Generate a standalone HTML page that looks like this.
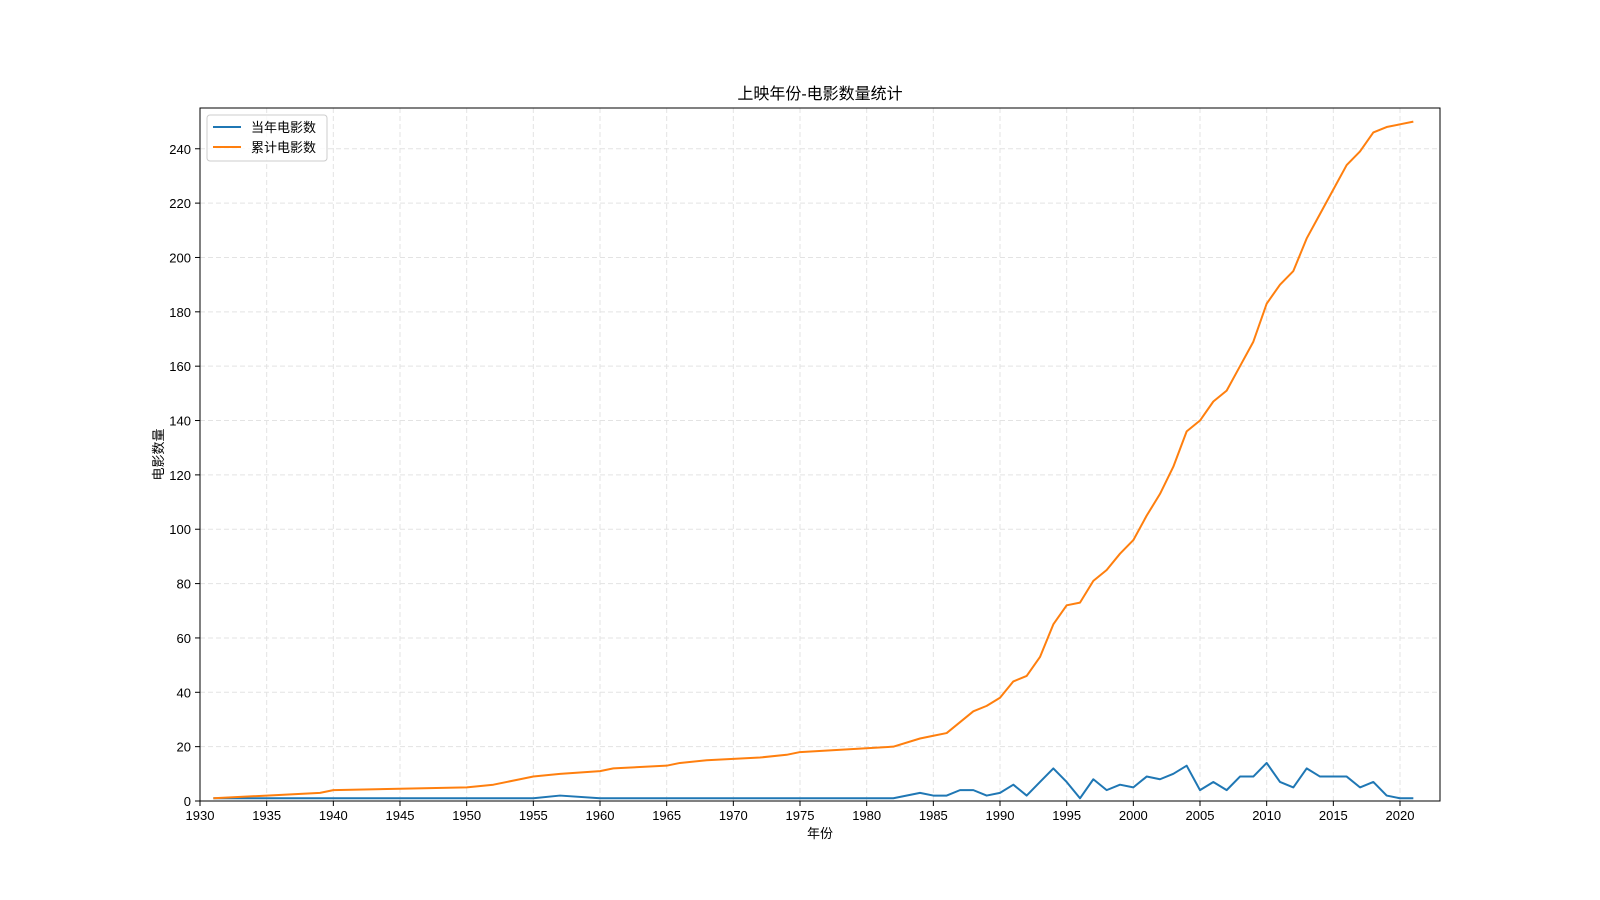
<!DOCTYPE html>
<html><head><meta charset="utf-8"><style>
body{margin:0;background:#fff;}
svg{display:block;font-family:"Liberation Sans","Noto Sans CJK SC",sans-serif;}
</style></head><body>
<svg id="chart" width="1600" height="900"></svg>
<script>
const years = [1931,1935,1939,1940,1950,1952,1954,1955,1957,1960,1961,1965,1966,1968,1972,1974,1975,1982,1984,1985,1986,1987,1988,1989,1990,1991,1992,1993,1994,1995,1996,1997,1998,1999,2000,2001,2002,2003,2004,2005,2006,2007,2008,2009,2010,2011,2012,2013,2014,2015,2016,2017,2018,2019,2020,2021];
const yearly = [1,1,1,1,1,1,1,1,2,1,1,1,1,1,1,1,1,1,3,2,2,4,4,2,3,6,2,7,12,7,1,8,4,6,5,9,8,10,13,4,7,4,9,9,14,7,5,12,9,9,9,5,7,2,1,1];
const cumulative = [1,2,3,4,5,6,8,9,10,11,12,13,14,15,16,17,18,20,23,24,25,29,33,35,38,44,46,53,65,72,73,81,85,91,96,105,113,123,136,140,147,151,160,169,183,190,195,207,216,225,234,239,246,248,249,250];
const xTicks = [1930,1935,1940,1945,1950,1955,1960,1965,1970,1975,1980,1985,1990,1995,2000,2005,2010,2015,2020];
const yTicks = [0,20,40,60,80,100,120,140,160,180,200,220,240];

const L=200,R=1440,T=108,B=801,X0=1930,X1=2023,Y0=0,Y1=255;
const sx=v=>L+(v-X0)/(X1-X0)*(R-L);
const sy=v=>B-(v-Y0)/(Y1-Y0)*(B-T);
const svg=document.getElementById('chart');
const NS='http://www.w3.org/2000/svg';
function mk(tag,attrs,parent){const e=document.createElementNS(NS,tag);for(const k in attrs)e.setAttribute(k,attrs[k]);(parent||svg).appendChild(e);return e;}

const grid=mk('g',{});


xTicks.forEach(t=>{
  const l=mk('line',{x1:sx(t),x2:sx(t),y1:T,y2:B,stroke:'#e3e3e3','stroke-dasharray':'5,3','stroke-width':1},grid);
  
  
  const tk=mk('line',{x1:sx(t),x2:sx(t),y1:B,y2:B+5,stroke:'#000'});
  
  
  const tx=mk('text',{x:sx(t),y:B+19,'text-anchor':'middle','font-size':13});
  tx.textContent=t;
  
  
});
yTicks.forEach(t=>{
  const l=mk('line',{x1:L,x2:R,y1:sy(t),y2:sy(t),stroke:'#e3e3e3','stroke-dasharray':'5,3','stroke-width':1},grid);
  
  
  const tk=mk('line',{x1:L-5,x2:L,y1:sy(t),y2:sy(t),stroke:'#000'});
  
  
  const tx=mk('text',{x:L-9,y:sy(t)+5,'text-anchor':'end','font-size':13});
  tx.textContent=t;
  
  
});

function series(vals,color,name){
  const p=mk('polyline',{points:years.map((y,i)=>sx(y)+','+sy(vals[i])).join(' '),fill:'none',stroke:color,'stroke-width':2,'stroke-linejoin':'round'});
  
  
}
series(yearly,'#1f77b4','yearly-line');
series(cumulative,'#ff7f0e','cumulative-line');

const frame=mk('rect',{x:L,y:T,width:R-L,height:B-T,fill:'none',stroke:'#000','stroke-width':1});



const title=mk('text',{x:(L+R)/2,y:99,'text-anchor':'middle','font-size':16});
title.textContent='上映年份-电影数量统计';


const xl=mk('text',{x:(L+R)/2,y:838,'text-anchor':'middle','font-size':13});
xl.textContent='年份';


const yl=mk('text',{x:0,y:0,'text-anchor':'middle','font-size':13,transform:'translate(163,'+((T+B)/2)+') rotate(-90)'});
yl.textContent='电影数量';



const lg=mk('g',{});


mk('rect',{x:207,y:115,width:120,height:46,rx:3,fill:'#fff','fill-opacity':0.8,stroke:'#ccc'},lg);
[['当年电影数','#1f77b4'],['累计电影数','#ff7f0e']].forEach((d,i)=>{
  const g=mk('g',{},lg);
  
  
  mk('line',{x1:213,x2:241,y1:127+i*20,y2:127+i*20,stroke:d[1],'stroke-width':2},g);
  const t=mk('text',{x:251,y:132+i*20,'font-size':13},g);
  t.textContent=d[0];
});
</script>
</body></html>
